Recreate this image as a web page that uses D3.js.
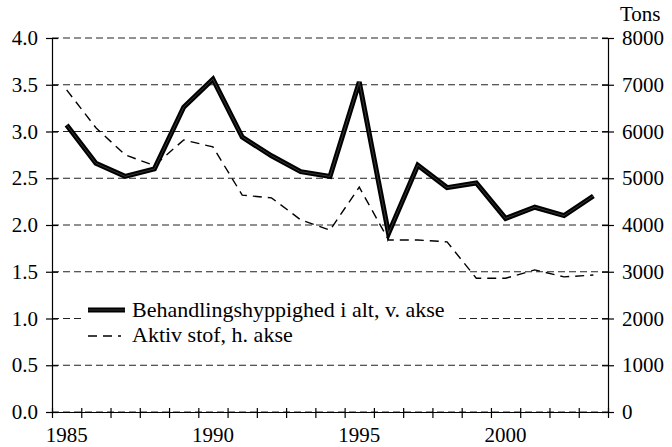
<!DOCTYPE html>
<html>
<head>
<meta charset="utf-8">
<script src="https://cdn.jsdelivr.net/npm/d3@7"></script>
</head>
<body style="margin:0">
<div id="chart"></div>
<script>
const years = d3.range(1985, 2004);
const frequency = [3.07, 2.66, 2.52, 2.60, 3.26, 3.56, 2.94, 2.74, 2.57, 2.52,
                   3.53, 1.91, 2.64, 2.40, 2.45, 2.07, 2.19, 2.10, 2.31];
const activeTons = [6890, 6080, 5500, 5270, 5820, 5670, 4640, 4580, 4110, 3890,
                    4810, 3680, 3680, 3640, 2860, 2860, 3040, 2890, 2930];
const leftTicks = [0, 0.5, 1, 1.5, 2, 2.5, 3, 3.5, 4];
const rightTicks = [0, 1000, 2000, 3000, 4000, 5000, 6000, 7000, 8000];
const yearLabels = [1985, 1990, 1995, 2000];
const seriesNames = ["Behandlingshyppighed i alt, v. akse", "Aktiv stof, h. akse"];

const W = 672, H = 447;
const plotLeft = 52, plotRight = 608, plotTop = 38, plotBottom = 412;
const fontSize = 21;
const serif = "Liberation Serif";

const svg = d3.select("#chart").append("svg")
  .attr("width", W)
  .attr("height", H);

const x = d3.scaleLinear().domain([1985, 2004]).range([plotLeft, plotRight]);
const yL = d3.scaleLinear().domain([0, 4]).range([plotBottom, plotTop]);
const yR = d3.scaleLinear().domain([0, 8000]).range([plotBottom, plotTop]);

// dashed grid
svg.append("g")
  .selectAll("line")
  .data(leftTicks)
  .join("line")
  .attr("x1", plotLeft).attr("x2", plotRight)
  .attr("y1", d => yL(d)).attr("y2", d => yL(d))
  .attr("stroke", "#222")
  .attr("stroke-width", 1)
  .attr("stroke-dasharray", "7,4");

// axes, ticks cross the axis line
const axisL = svg.append("g")
  .attr("transform", `translate(${plotLeft},0)`)
  .call(d3.axisLeft(yL).tickValues(leftTicks).tickFormat(d3.format(".1f")).tickSizeInner(6).tickSizeOuter(0).tickPadding(8));
axisL.selectAll(".tick line").attr("x1", 6);

const axisR = svg.append("g")
  .attr("transform", `translate(${plotRight},0)`)
  .call(d3.axisRight(yR).tickValues(rightTicks).tickFormat(d => d).tickSizeInner(6).tickSizeOuter(0).tickPadding(8));
axisR.selectAll(".tick line").attr("x1", -6);

const axisB = svg.append("g")
  .attr("transform", `translate(0,${plotBottom})`)
  .call(d3.axisBottom(x).tickValues(d3.range(1985, 2005)).tickFormat("").tickSizeInner(6).tickSizeOuter(0));
axisB.selectAll(".tick line").attr("y1", -4);

[axisL, axisR, axisB].forEach(a => {
  a.attr("font-size", fontSize).attr("font-family", serif);
  a.selectAll("path.domain").attr("stroke", "#000").attr("stroke-width", 1.2);
  a.selectAll(".tick line").attr("stroke", "#000").attr("stroke-width", 1.2);
  a.selectAll("text").attr("fill", "#000");
});

svg.append("g")
  .selectAll("text")
  .data(yearLabels)
  .join("text")
  .attr("x", d => x(d + 0.5))
  .attr("y", plotBottom + 30)
  .attr("text-anchor", "middle")
  .attr("font-size", fontSize)
  .text(d => d);

svg.append("text")
  .attr("x", 620)
  .attr("y", 21)
  .attr("font-size", fontSize)
  .text("Tons");

// lines
const lineL = d3.line().x((d, i) => x(years[i] + 0.5)).y(d => yL(d));
const lineR = d3.line().x((d, i) => x(years[i] + 0.5)).y(d => yR(d));

svg.append("path")
  .attr("d", lineR(activeTons))
  .attr("fill", "none")
  .attr("stroke", "#000")
  .attr("stroke-width", 1.4)
  .attr("stroke-dasharray", "9,6");

svg.append("path")
  .attr("d", lineL(frequency))
  .attr("fill", "none")
  .attr("stroke", "#000")
  .attr("stroke-width", 5)
  .attr("stroke-linejoin", "miter");

svg.append("path")
  .attr("d", lineL(frequency))
  .attr("fill", "none")
  .attr("stroke", "#444")
  .attr("stroke-width", 0.8);

// legend
const legend = svg.append("g");
legend.append("rect")
  .attr("x", 82).attr("y", 294)
  .attr("width", 374).attr("height", 54)
  .attr("fill", "#fff");

legend.append("line")
  .attr("x1", 88).attr("x2", 125).attr("y1", 310).attr("y2", 310)
  .attr("stroke", "#000").attr("stroke-width", 5);
legend.append("line")
  .attr("x1", 88).attr("x2", 125).attr("y1", 310).attr("y2", 310)
  .attr("stroke", "#444").attr("stroke-width", 0.8);
legend.append("line")
  .attr("x1", 88).attr("x2", 121).attr("y1", 336).attr("y2", 336)
  .attr("stroke", "#000").attr("stroke-width", 1.4)
  .attr("stroke-dasharray", "9,6");

legend.selectAll("text.item")
  .data(seriesNames)
  .join("text")
  .attr("class", "item")
  .attr("x", 132)
  .attr("y", (d, i) => 317 + i * 25)
  .attr("font-size", 22)
  .text(d => d);

svg.selectAll("text").style("font-family", serif);
</script>
</body>
</html>
